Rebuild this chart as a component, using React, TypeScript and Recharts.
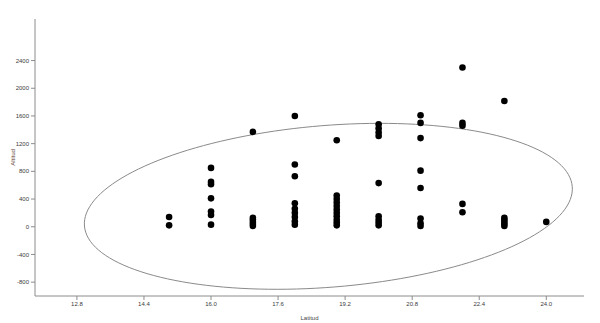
import React from 'react';
import { ScatterChart, Scatter, XAxis, YAxis } from 'recharts';

// Latitude columns and altitude readings at each latitude
const latitudes = [15, 16, 17, 18, 19, 20, 21, 22, 23, 24];
const alt15 = [140, 20];
const alt16 = [850, 650, 615, 410, 220, 170, 30];
const alt17 = [1370, 130, 100, 70, 40, 10];
const alt18 = [1600, 900, 730, 340, 260, 200, 140, 80, 30];
const alt19 = [1250, 450, 400, 350, 300, 250, 200, 150, 100, 60, 20];
const alt20 = [1480, 1420, 1360, 1310, 630, 150, 100, 60, 20];
const alt21 = [1610, 1500, 1280, 810, 560, 120, 50, 10];
const alt22 = [2300, 1500, 1460, 330, 210];
const alt23 = [1815, 130, 100, 70, 40, 10];
const alt24 = [70];
const altitudes = [alt15, alt16, alt17, alt18, alt19, alt20, alt21, alt22, alt23, alt24];

const xTicks = [12.8, 14.4, 16.0, 17.6, 19.2, 20.8, 22.4, 24.0];
const yTicks = [-800, -400, 0, 400, 800, 1200, 1600, 2000, 2400];

// Confidence ellipse parameters (data units): centre and the two conjugate half-axis vectors
const ellipseCenter = { lat: 18.8, alt: 295 };
const ellipseAxisU = { lat: 5.82, alt: 284 };
const ellipseAxisV = { lat: 0.155, alt: -1164 };
const ellipseSteps = 160;

const points = latitudes.flatMap((lat, i) => altitudes[i].map((alt) => ({ lat, alt })));

const ellipse = Array.from({ length: ellipseSteps + 1 }, (_, k) => {
  const t = (2 * Math.PI * k) / ellipseSteps;
  return {
    lat: ellipseCenter.lat + ellipseAxisU.lat * Math.cos(t) + ellipseAxisV.lat * Math.sin(t),
    alt: ellipseCenter.alt + ellipseAxisU.alt * Math.cos(t) + ellipseAxisV.alt * Math.sin(t),
  };
});

const FONT = 'Liberation Sans';
const tickStyle = { fontSize: 6, fill: '#3a3a3a', fontFamily: FONT };
const axisColor = '#8c8c8c';

const Dot = (props: any) => <circle cx={props.cx} cy={props.cy} r={3.3} fill="#000" />;
const NoDot = () => <g />;

export default function App() {
  return (
    <div style={{ position: 'absolute', left: 0, top: 0, width: 600, height: 323, background: '#fff' }}>
      <ScatterChart width={600} height={323} margin={{ top: 19, right: 16, bottom: 0, left: 0 }}>
        <XAxis
          type="number"
          dataKey="lat"
          domain={[11.8, 24.9]}
          ticks={xTicks}
          tickFormatter={(v: number) => v.toFixed(1)}
          tick={tickStyle}
          tickSize={4}
          height={27}
          stroke={axisColor}
          allowDataOverflow
          label={{ value: 'Latitud', position: 'insideBottom', offset: 3, fontSize: 6, fill: '#444', fontFamily: FONT }}
        />
        <YAxis
          type="number"
          dataKey="alt"
          domain={[-1000, 3000]}
          ticks={yTicks}
          tick={tickStyle}
          tickSize={4}
          width={35}
          stroke={axisColor}
          allowDataOverflow
          label={{
            content: (p: any) => {
              const vb = p.viewBox || {};
              const x = 13;
              const y = (vb.y ?? 19) + (vb.height ?? 277) / 2;
              return (
                <text x={x} y={y} transform={`rotate(-90 ${x} ${y})`} textAnchor="middle" dominantBaseline="middle" fontSize={6} fill="#5a3a2e" fontFamily={FONT}>
                  Altitud
                </text>
              );
            },
          }}
        />
        <Scatter data={ellipse} line={{ stroke: '#8a8a8a', strokeWidth: 1 }} lineType="joint" shape={NoDot} isAnimationActive={false} />
        <Scatter data={points} shape={Dot} isAnimationActive={false} />
      </ScatterChart>
    </div>
  );
}
